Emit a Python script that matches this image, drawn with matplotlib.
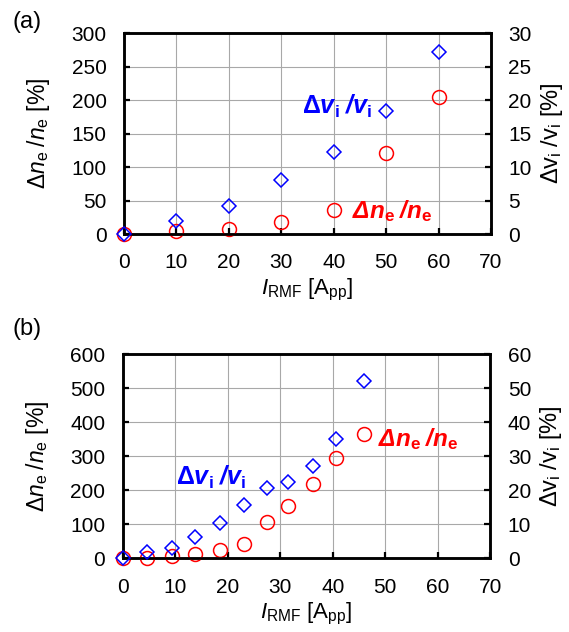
import matplotlib
matplotlib.use('Agg')
import matplotlib.pyplot as plt

# Данные, панель (a)
i_rmf_a = [0, 10, 20, 30, 40, 50, 60]
dne_a = [0, 4, 8, 18, 36, 121, 205]            # Δn_e/n_e [%]
dvi_a = [0, 2.0, 4.2, 8.1, 12.2, 18.4, 27.2]   # Δv_i/v_i [%]

# Данные, панель (b)
i_rmf_b = [0, 4.7, 9.4, 13.8, 18.6, 23.1, 27.4, 31.5, 36.3, 40.6, 45.9]
dne_b = [0, 0, 6, 12, 24, 42, 105, 152, 217, 293, 366]
dvi_b = [0, 1.8, 3.0, 6.3, 10.4, 15.6, 20.5, 22.4, 27.0, 35.1, 52.2]

x_ticks = [0, 10, 20, 30, 40, 50, 60, 70]
ne_ticks_a = [0, 50, 100, 150, 200, 250, 300]
vi_ticks_a = [0, 5, 10, 15, 20, 25, 30]
ne_ticks_b = [0, 100, 200, 300, 400, 500, 600]
vi_ticks_b = [0, 10, 20, 30, 40, 50, 60]

plt.rcParams['font.family'] = ['Liberation Sans', 'DejaVu Sans']
plt.rcParams['font.size'] = 15
plt.rcParams['mathtext.fontset'] = 'custom'
plt.rcParams['mathtext.rm'] = 'Liberation Sans'
plt.rcParams['mathtext.it'] = 'Liberation Sans:italic'
plt.rcParams['mathtext.bf'] = 'Liberation Sans:bold'
plt.rcParams['mathtext.bfit'] = 'Liberation Sans:italic:bold'
plt.rcParams['mathtext.sf'] = 'Liberation Sans'

BLUE = '#0000FF'
RED = '#FF0000'

fig = plt.figure(figsize=(5.69, 6.32), dpi=100)


def make_panel(rect, x, ne, vi, ne_ticks, vi_ticks, blue_pos, red_pos, letter, letter_y):
    ax = fig.add_axes(rect)
    ax2 = ax.twinx()
    ax.set_xlim(0, 70)
    ax.set_ylim(ne_ticks[0], ne_ticks[-1])
    ax2.set_ylim(vi_ticks[0], vi_ticks[-1])
    ax.set_xticks(x_ticks)
    ax.set_yticks(ne_ticks)
    ax2.set_yticks(vi_ticks)
    ax.grid(True, color='#a8a8a8', linewidth=0.8)
    ax.set_axisbelow(True)
    for a in (ax, ax2):
        for s in a.spines.values():
            s.set_linewidth(1.8)
        a.tick_params(direction='in', length=4, width=1.6, labelsize=15, pad=12.5)
    ax.tick_params(axis='x', pad=14, top=False)

    ax.plot(x, ne, 'o', ms=10, mfc='none', mec=RED, mew=1.1, clip_on=False, zorder=4)
    ax2.plot(x, vi, 'D', ms=6.9, mfc='none', mec=BLUE, mew=1.1, clip_on=False, zorder=3)

    ax.set_xlabel(r'$I_\mathrm{RMF}$ [A$_\mathrm{pp}$]', fontsize=16, labelpad=3)
    ax.set_ylabel(r'$\Delta n_\mathrm{e}\;/n_\mathrm{e}$ [%]', fontsize=16.5, labelpad=14)
    ax2.set_ylabel(r'$\Delta\mathrm{v}_\mathrm{i}\;/\mathrm{v}_\mathrm{i}$ [%]', fontsize=17, labelpad=5)

    ax.text(blue_pos[0], blue_pos[1], r'$\mathbf{\Delta}\mathbfit{v}_\mathbf{i}\;\mathbfit{/v}_\mathbf{i}$',
            color=BLUE, fontsize=18, ha='left', va='baseline')
    ax.text(red_pos[0], red_pos[1], r'$\mathbfit{\Delta n}_\mathbf{e}\;\mathbfit{/n}_\mathbf{e}$',
            color=RED, fontsize=17.5, ha='left', va='baseline')
    fig.text(0.022, letter_y, letter, fontsize=17, va='center', ha='left')
    return ax


make_panel([0.218, 0.6297, 0.645, 0.318], i_rmf_a, dne_a, dvi_a, ne_ticks_a, vi_ticks_a,
           (34.0, 180), (43.5, 24), '(a)', 1 - 22 / 632)
make_panel([0.2153, 0.117, 0.6467, 0.3228], i_rmf_b, dne_b, dvi_b, ne_ticks_b, vi_ticks_b,
           (10.2, 215), (48.6, 329), '(b)', 1 - 329 / 632)

plt.savefig('out.png', dpi=100)
